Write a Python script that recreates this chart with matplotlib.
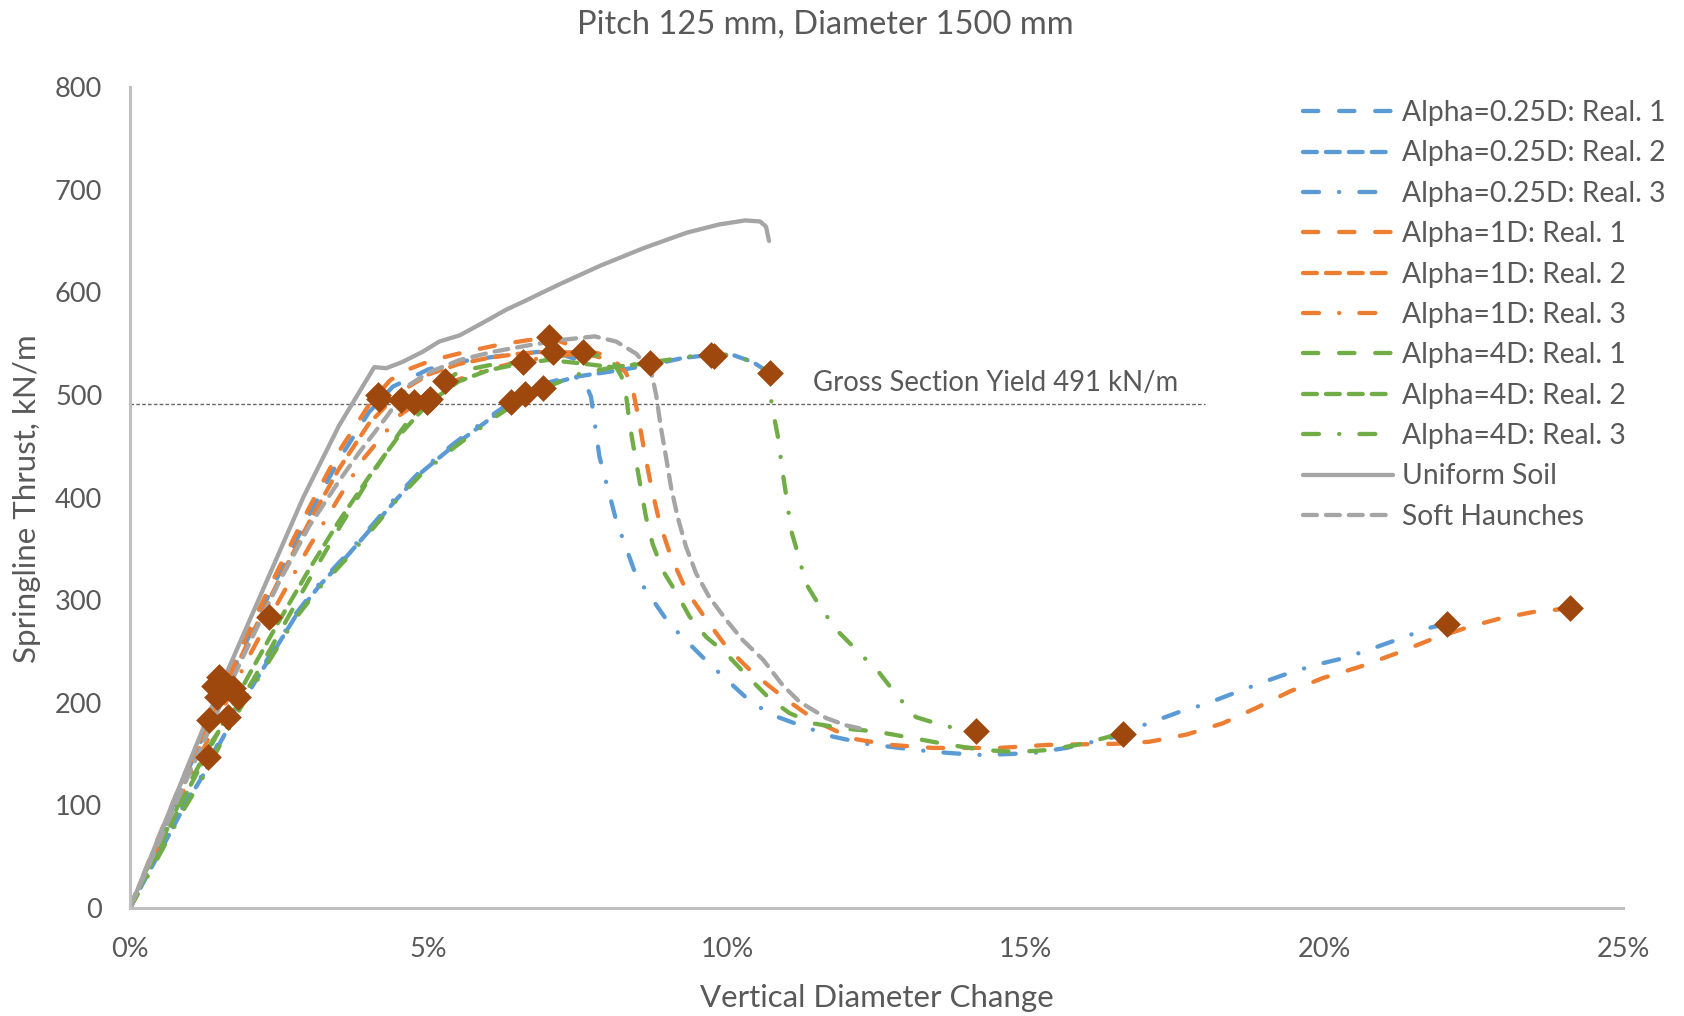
import numpy as np
import matplotlib
matplotlib.use("Agg")
from matplotlib import pyplot as plt
from matplotlib.ticker import PercentFormatter, MultipleLocator

plt.rcParams['font.family'] = ['Lato', 'DejaVu Sans']
plt.rcParams['lines.scale_dashes'] = False

# ---- data (x = vertical diameter change in %, y = springline thrust kN/m) ----
a025_r1_x = [0, 0.5, 1, 1.5, 2, 2.5, 3, 3.5, 4.0, 4.4, 5.0, 5.6, 6.2, 6.86, 7.2, 7.5]
a025_r1_y = [0, 70, 138, 203, 266, 326, 383, 437, 483, 508, 525, 533, 538, 542, 540, 534]

a025_r2_x = [0, 0.27, 0.55, 0.88, 1.21, 1.5, 1.78, 2.11, 2.45, 2.78, 3.17, 3.62, 4.07, 4.46, 4.85, 5.41,
             6.13, 6.5, 7.0, 7.5, 8.08, 8.6, 8.95, 9.26, 9.73, 10.09, 10.43, 10.72]
a025_r2_y = [0, 30, 60, 96, 128, 160, 190, 222, 254, 285, 314, 342, 372, 398, 423, 450,
             481, 495, 510, 518, 523, 528, 532, 536, 539, 539, 532, 521]

a025_r3_x = [0, 0.27, 0.55, 0.88, 1.21, 1.5, 1.78, 2.11, 2.45, 2.78, 3.17, 3.62, 4.07, 4.46, 4.85, 5.41,
             6.13, 6.5, 7.0, 7.4, 7.6, 7.72, 7.86, 8.14, 8.48, 9.03, 9.7, 10.43, 10.85, 11.27, 11.77,
             12.33, 13.16, 13.72, 14.28, 15.12, 15.68, 16.51, 16.96, 17.57, 18.02, 18.47, 18.97, 19.41,
             19.86, 20.36, 20.81, 21.29, 21.76, 22.06]
a025_r3_y = [0, 32, 62, 98, 130, 163, 193, 225, 256, 287, 316, 344, 374, 401, 425, 452,
             483, 498, 512, 518, 515, 498, 440, 378, 323, 277, 238, 199, 186, 177, 167,
             160, 154, 151, 149, 151, 156, 167, 178, 191, 199, 209, 220, 229,
             237, 244, 253, 263, 273, 277]

a1_r1_x = [0, 0.5, 1, 1.5, 2, 2.5, 3, 3.5, 4.0, 4.35, 4.62, 5.07, 5.63, 6.19, 6.63, 7.02, 7.3, 7.58,
           7.97, 8.14, 8.31, 8.42, 8.5, 8.61, 8.73, 8.87, 9.06, 9.31, 9.65, 9.98, 10.43, 10.99, 11.55,
           12.1, 12.72, 13.44, 14.56, 15.39, 16.5, 17.07, 17.69, 18.3, 18.86, 19.42, 19.97, 20.59,
           21.2, 21.76, 22.37, 22.93, 23.55, 24.12]
a1_r1_y = [0, 72, 142, 208, 272, 332, 390, 445, 490, 514, 524, 534, 542, 549, 553, 556, 550, 543,
           539, 532, 521, 505, 482, 446, 410, 375, 342, 310, 281, 255, 229, 203, 180,
           165, 159, 156, 156, 159, 160, 162, 169, 180, 195, 211, 224, 235,
           248, 261, 273, 282, 289, 292]

a1_r2_x = [0, 0.5, 1, 1.5, 2, 2.5, 3, 3.5, 4.0, 4.5, 5.0, 5.5, 6.0, 6.5, 7.0, 7.6, 7.9]
a1_r2_y = [0, 68, 135, 200, 262, 320, 376, 428, 472, 502, 520, 530, 536, 540, 542, 541, 536]

a1_r3_x = [0, 0.5, 1, 1.5, 2, 2.5, 3, 3.5, 3.9, 4.51, 5.0, 5.5, 6.0, 6.5, 7.0, 7.5, 7.9]
a1_r3_y = [0, 64, 127, 188, 246, 300, 352, 400, 437, 480, 500, 515, 525, 532, 537, 540, 538]

a4_r1_x = [0, 0.21, 0.55, 0.83, 1.11, 1.39, 1.78, 2.06, 2.5, 3, 3.5, 4.0, 4.5, 4.79, 5.13, 5.52, 6.02,
           6.58, 7.02, 7.58, 8.03, 8.11, 8.23, 8.31, 8.36, 8.42, 8.49, 8.56, 8.64, 8.75, 8.92, 9.15,
           9.37, 9.65, 9.98, 10.37, 10.71, 11.04, 11.43, 11.94, 12.49, 13.16, 13.72, 14.28, 14.84,
           15.39, 15.95, 16.4, 16.62]
a4_r1_y = [0, 30, 68, 103, 134, 164, 196, 222, 268, 320, 370, 418, 462, 485, 508, 523, 529,
           532, 537, 540, 537, 530, 518, 498, 475, 453, 430, 407, 381, 355, 329, 307,
           284, 264, 248, 224, 204, 190, 180, 175, 172, 165, 159, 154, 152,
           154, 160, 167, 170]

a4_r2_x = [0, 0.5, 1, 1.5, 2, 2.5, 3, 3.5, 4.0, 4.5, 5.0, 5.5, 6.0, 6.5, 7.0, 7.5, 8.08, 8.7]
a4_r2_y = [0, 60, 118, 174, 228, 280, 330, 377, 420, 460, 492, 513, 524, 530, 534, 531, 527, 531]

a4_r3_x = [0, 0.27, 0.55, 0.88, 1.21, 1.5, 1.78, 2.11, 2.45, 2.78, 3.17, 3.62, 4.07, 4.46, 4.85, 5.41,
           6.13, 6.5, 7.0, 7.5, 8.1, 8.6, 9.0, 9.26, 9.73, 10.09, 10.43, 10.72, 10.74, 10.85, 10.93,
           10.99, 11.07, 11.18, 11.32, 11.55, 11.83, 12.19, 12.55, 12.83, 13.16, 13.61, 14.0, 14.17]
a4_r3_y = [0, 28, 58, 94, 126, 158, 188, 220, 252, 283, 312, 340, 370, 397, 421, 448,
           479, 493, 508, 520, 527, 531, 534, 537, 539, 539, 532, 521, 492, 459, 424,
           401, 368, 346, 316, 294, 271, 250, 229, 208, 186, 178, 173, 172]

uniform_x = [0, 0.7, 1.4, 2.15, 2.9, 3.5, 4.09, 4.29, 4.56, 4.9, 5.18, 5.52, 5.9, 6.3, 6.63, 7.2,
             7.88, 8.6, 9.32, 9.86, 10.3, 10.55, 10.65, 10.7]
uniform_y = [0, 100, 200, 300, 400, 470, 527, 526, 532, 542, 552, 558, 570, 583, 592, 608,
             626, 643, 658, 666, 670, 669, 664, 650]

soft_x = [0, 0.5, 1, 1.5, 2, 2.5, 3, 3.5, 3.84, 4.3, 4.68, 5.01, 5.52, 6.08, 6.74, 7.3, 7.78, 8.14,
          8.48, 8.73, 8.81, 8.89, 8.98, 9.06, 9.17, 9.31, 9.48, 9.7, 9.98, 10.26, 10.6, 10.93, 11.21,
          11.66, 11.99, 12.22]
soft_y = [0, 66, 132, 196, 258, 318, 372, 416, 444, 479, 510, 522, 534, 542, 549, 554, 557, 552,
          540, 522, 500, 468, 438, 410, 381, 352, 326, 303, 281, 261, 242, 217, 201,
          185, 178, 175]

# event markers (brown diamonds)
mark_x = [1.31, 1.33, 1.41, 1.45, 1.49, 1.64, 1.72, 1.81, 2.32, 4.15, 4.17, 4.54, 4.76, 4.97, 5.02,
          5.27, 6.38, 6.61, 6.91, 6.58, 7.02, 7.08, 7.58, 8.70, 9.73, 9.78, 10.72, 14.17, 16.62,
          22.06, 24.12]
mark_y = [147, 183, 216, 206, 225, 186, 214, 206, 284, 500, 496, 495, 493, 493, 496,
          514, 493, 501, 507, 532, 556, 542, 542, 531, 539, 538, 521, 172, 170,
          277, 292]

yield_value = 491
yield_end = 18.0

BLUE = '#5B9BD5'
ORANGE = '#ED7D31'
GREEN = '#70AD47'
GRAY = '#A5A5A5'
TXT = '#595959'

long_dash = (0, (11, 15))
short_dash = (0, (10, 6.5))
dash_dot = (0, (11.5, 14.5, 0.1, 14.5))

series = [
    (a025_r1_x, a025_r1_y, BLUE, long_dash, 'Alpha=0.25D: Real. 1'),
    (a025_r2_x, a025_r2_y, BLUE, short_dash, 'Alpha=0.25D: Real. 2'),
    (a025_r3_x, a025_r3_y, BLUE, dash_dot, 'Alpha=0.25D: Real. 3'),
    (a1_r1_x, a1_r1_y, ORANGE, long_dash, 'Alpha=1D: Real. 1'),
    (a1_r2_x, a1_r2_y, ORANGE, short_dash, 'Alpha=1D: Real. 2'),
    (a1_r3_x, a1_r3_y, ORANGE, dash_dot, 'Alpha=1D: Real. 3'),
    (a4_r1_x, a4_r1_y, GREEN, long_dash, 'Alpha=4D: Real. 1'),
    (a4_r2_x, a4_r2_y, GREEN, short_dash, 'Alpha=4D: Real. 2'),
    (a4_r3_x, a4_r3_y, GREEN, dash_dot, 'Alpha=4D: Real. 3'),
    (uniform_x, uniform_y, GRAY, '-', 'Uniform Soil'),
    (soft_x, soft_y, GRAY, short_dash, 'Soft Haunches'),
]

fig = plt.figure(figsize=(16.84, 10.16), dpi=100)
ax = fig.add_axes([130 / 1684, 108 / 1016, 1493 / 1684, 821 / 1016])

handles = []
for xs, ys, col, ls, lab in series:
    h, = ax.plot(xs, ys, color=col, linestyle=ls, lw=3.1, label=lab,
                 dash_capstyle='round', solid_capstyle='round', zorder=2)
    handles.append(h)

ax.scatter(mark_x, mark_y, marker='D', s=185, color='#9E480E', zorder=4, linewidths=0)

# gross section yield line
ax.plot([0, yield_end], [yield_value, yield_value], color='#666666', lw=1.0,
        linestyle=(0, (2.6, 1.6)), zorder=1)
ax.text(11.43, 512, 'Gross Section Yield %d kN/m' % yield_value, fontsize=19.8,
        color=TXT, va='center', ha='left')

ax.set_xlim(0, 25)
ax.set_ylim(0, 800)
ax.xaxis.set_major_locator(MultipleLocator(5))
ax.yaxis.set_major_locator(MultipleLocator(100))
ax.xaxis.set_major_formatter(PercentFormatter(xmax=100, decimals=0))

for s in ['top', 'right']:
    ax.spines[s].set_visible(False)
for s in ['left', 'bottom']:
    ax.spines[s].set_color('#BFBFBF')
    ax.spines[s].set_linewidth(2.2)
ax.tick_params(axis='both', length=0, labelsize=19.5, colors=TXT)
ax.tick_params(axis='x', pad=21)
ax.tick_params(axis='y', pad=20)

fig.text(825 / 1684, 1 - 25 / 1016, 'Pitch 125 mm, Diameter 1500 mm', fontsize=23.5,
         color=TXT, ha='center', va='center')
fig.text(877 / 1684, 1 - 998 / 1016, 'Vertical Diameter Change', fontsize=22.5,
         color=TXT, ha='center', va='center')
fig.text(27 / 1684, 1 - 499 / 1016, 'Springline Thrust, kN/m', fontsize=22.5,
         color=TXT, ha='center', va='center', rotation=90)

leg = ax.legend(handles=handles, loc='upper left', bbox_to_anchor=(1303 / 1684, 1 - 100 / 1016),
                bbox_transform=fig.transFigure, frameon=False, fontsize=20.3, handlelength=3.2,
                handletextpad=0.3, labelspacing=0.51, borderaxespad=0, borderpad=0)
for t in leg.get_texts():
    t.set_color(TXT)

plt.savefig('out.png', dpi=100)
